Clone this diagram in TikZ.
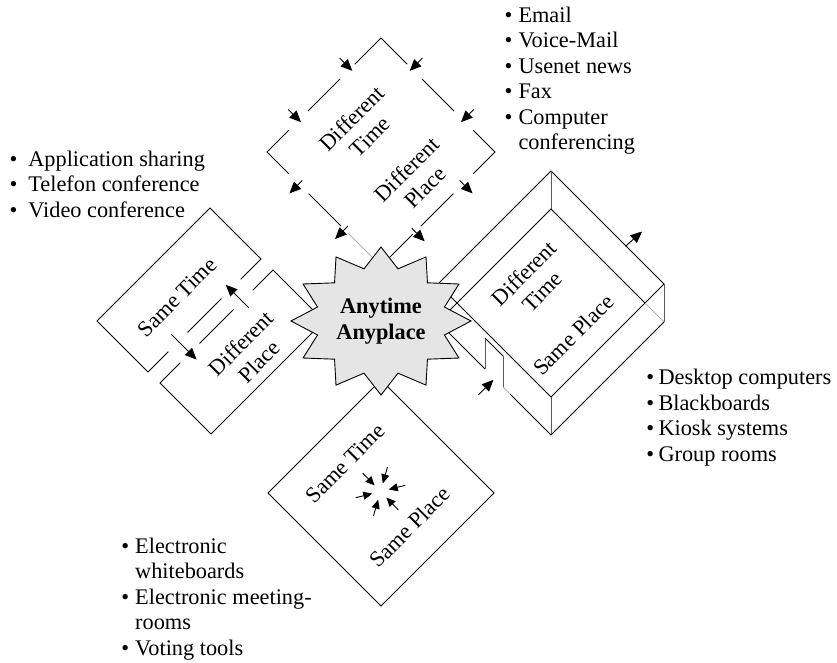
\documentclass[tikz,border=0pt]{standalone}
\usepackage{fontspec}
\setmainfont{Liberation Serif}
\usetikzlibrary{arrows.meta,calc}
\begin{document}
\begin{tikzpicture}[x=1pt,y=-1pt,
  ln/.style={line width=0.9pt},
  vert/.style={line width=0.9pt, draw=black!65},
  faint/.style={line width=0.9pt, draw=black!30},
  arr/.style={line width=0.9pt, -{Triangle[length=11.5pt,width=10pt]}},
  sarr/.style={line width=0.9pt, -{Triangle[length=9pt,width=8pt]}},
  burststyle/.style={line width=0.9pt, draw=black, fill=black!10, line join=miter},
  lbl/.style={font=\fontsize{22.3}{25.5}\selectfont, inner sep=0pt, align=center},
  lst/.style={font=\fontsize{22.3}{25.5}\selectfont, inner sep=0pt, anchor=base west},
]
\useasboundingbox (0,0) rectangle (837,662);

% ---------- top diamond: Different Time / Different Place ----------
\coordinate (dT) at (381,38);
\coordinate (dL) at (267,152);
\coordinate (dR) at (495,152);
\coordinate (dB) at (381,266);
\draw[ln] ($(dT)!0.23!(dL)$) -- (dT) -- ($(dT)!0.23!(dR)$);
\draw[ln] ($(dT)!0.36!(dL)$) -- ($(dT)!0.64!(dL)$);
\draw[ln] ($(dT)!0.36!(dR)$) -- ($(dT)!0.64!(dR)$);
\draw[ln] ($(dT)!0.81!(dL)$) -- (dL) -- ($(dL)!0.19!(dB)$);
\draw[ln] ($(dT)!0.81!(dR)$) -- (dR) -- ($(dR)!0.19!(dB)$);
\draw[ln] ($(dL)!0.365!(dB)$) -- ($(dL)!0.65!(dB)$);
\draw[ln] ($(dR)!0.365!(dB)$) -- ($(dR)!0.65!(dB)$);
\draw[faint] ($(dL)!0.71!(dB)$) -- (dB);
\draw[ln] ($(dR)!0.72!(dB)$) -- (dB);
% inward arrows (upper edges)
\draw[arr] ($(dT)!0.27!(dL)+(-10.6,-10.6)$) -- ($(dT)!0.27!(dL)+(2.1,2.1)$);
\draw[arr] ($(dT)!0.72!(dL)+(-10.6,-10.6)$) -- ($(dT)!0.72!(dL)+(2.1,2.1)$);
\draw[arr] ($(dT)!0.27!(dR)+(10.6,-10.6)$) -- ($(dT)!0.27!(dR)+(-2.1,2.1)$);
\draw[arr] ($(dT)!0.72!(dR)+(10.6,-10.6)$) -- ($(dT)!0.72!(dR)+(-2.1,2.1)$);
% outward arrows (lower edges)
\draw[arr] ($(dL)!0.28!(dB)+(3.5,-3.5)$) -- ($(dL)!0.28!(dB)+(-9.5,9.5)$);
\draw[arr] ($(dL)!0.68!(dB)+(3.5,-3.5)$) -- ($(dL)!0.68!(dB)+(-9.5,9.5)$);
\draw[arr] ($(dR)!0.28!(dB)+(-3.5,-3.5)$) -- ($(dR)!0.28!(dB)+(9.5,9.5)$);
\draw[arr] ($(dR)!0.70!(dB)+(-3.5,-3.5)$) -- ($(dR)!0.70!(dB)+(9.5,9.5)$);

% ---------- left: Same Time / Different Place ----------
\coordinate (uL) at (97,321);
\coordinate (uT) at (210,208);
\coordinate (uR) at (261,259);
\coordinate (uB) at (148,372);
\coordinate (lL) at (160,383);
\coordinate (lT) at (273,270);
\coordinate (lR) at (324,321);
\coordinate (lB) at (211,434);
\draw[ln] ($(uR)!0.18!(uB)$) -- (uR) -- (uT) -- (uL) -- (uB) -- ($(uB)!0.18!(uR)$);
\draw[ln] ($(uR)!0.35!(uB)$) -- ($(uR)!0.65!(uB)$);
\draw[ln] ($(lT)!0.18!(lL)$) -- (lT) -- (lR) -- (lB) -- (lL) -- ($(lL)!0.18!(lT)$);
\draw[ln] ($(lT)!0.35!(lL)$) -- ($(lT)!0.65!(lL)$);
\coordinate (la1) at (248.9,307.9);
\coordinate (lb1) at (225.8,284.8);
\coordinate (la2) at (171.4,334.4);
\coordinate (lb2) at (196.6,359.6);
\draw[arr] (la1) -- (lb1);
\draw[arr] (la2) -- (lb2);

% ---------- right: box Different Time / Same Place ----------
\coordinate (P1) at (551,171);
\coordinate (P2) at (664,284);
\coordinate (P3) at (551,397);
\coordinate (P4) at (438,284);
\coordinate (Q1) at (551,209);
\coordinate (Q2) at (664,322);
\coordinate (Q3) at (551,435);
\coordinate (Q4) at (438,322);
\coordinate (X) at (645,303);
\coordinate (N1) at (485,369);
\coordinate (N2) at (485,338);
\coordinate (N3) at (503,356);
\coordinate (N4) at (503,387);
\coordinate (G) at (510,394);
\draw[ln] (P4) -- (P1) -- (P2) -- (P3) -- cycle;
\draw[vert] (P1) -- (Q1);
\draw[vert] (P2) -- (Q2);
\draw[vert] (P3) -- (Q3);
\draw[ln] (Q4) -- (Q1) -- (X);
\draw[faint] (X) -- (Q2);
\draw[ln] (Q2) -- (Q3) -- (G);
\draw[faint] (G) -- (N4);
\draw[ln] (Q4) -- (N1);
\draw[vert] (N1) -- (N2);
\draw[ln] (N2) -- (N3);
\draw[vert] (N3) -- (N4);
\coordinate (ra1) at (625.5,246.3);
\coordinate (rb1) at (642,231.5);
\coordinate (ra2) at (478.5,394.8);
\coordinate (rb2) at (493.5,379.8);
\draw[arr] (ra1) -- (rb1);
\draw[arr] (ra2) -- (rb2);

% ---------- bottom diamond: Same Time / Same Place ----------
\coordinate (bT) at (381,380);
\coordinate (bL) at (268,493);
\coordinate (bB) at (381,606);
\coordinate (bR) at (494,493);
\draw[ln] (bT) -- (bR) -- (bB) -- (bL) -- cycle;
\coordinate (bc) at (380.5,491.5);
\foreach \a in {14,74,134,194,254,314}
  \draw[sarr] ($(bc)+(-\a:25.5)$) -- ($(bc)+(-\a:8.5)$);

% ---------- centre burst ----------
\coordinate (st) at (381,321);
\draw[burststyle] ($(st)+(0:90 and 74)$)
  \foreach \a in {0,30,...,330}{ -- ($(st)+({\a+15}:65.7 and 54)$) -- ($(st)+({\a+30}:90 and 74)$) } -- cycle;
\node[lbl, font=\fontsize{22.3}{25.5}\selectfont\bfseries] (any) at (381,321) {Anytime\\Anyplace};

% ---------- labels ----------
\node[lbl, rotate=45] (t1) at (360.8,127.5) {Different\\Time};
\node[lbl, rotate=45] (t2) at (415.8,178.3) {Different\\Place};
\node[lbl, rotate=45] (l1) at (177,297) {Same Time};
\node[lbl, rotate=45] (l2) at (250,352.5) {Different\\Place};
\node[lbl, rotate=45] (r1) at (533,282.5) {Different\\Time};
\node[lbl, rotate=45] (r2) at (573.3,335) {Same Place};
\node[lbl, rotate=45] (b1) at (345,463.3) {Same Time};
\node[lbl, rotate=45] (b2) at (410,527) {Same Place};

% ---------- lists ----------
\node[lst] (listTR) at (504.4,22) {\begin{tabular}[t]{@{}l@{\hspace{6.1pt}}l@{}}
\textbullet & Email\\
\textbullet & Voice-Mail\\
\textbullet & Usenet news\\
\textbullet & Fax\\
\textbullet & Computer\\
 & conferencing
\end{tabular}};
\node[lst] (listL) at (9.4,166) {\begin{tabular}[t]{@{}l@{\hspace{11pt}}l@{}}
\textbullet & Application sharing\\
\textbullet & Telefon conference\\
\textbullet & Video conference
\end{tabular}};
\node[lst] (listR) at (646.1,384.5) {\begin{tabular}[t]{@{}l@{\hspace{4.4pt}}l@{}}
\textbullet & Desktop computers\\
\textbullet & Blackboards\\
\textbullet & Kiosk systems\\
\textbullet & Group rooms
\end{tabular}};
\node[lst] (listB) at (121.1,553) {\begin{tabular}[t]{@{}l@{\hspace{6.1pt}}l@{}}
\textbullet & Electronic\\
 & whiteboards\\
\textbullet & Electronic meeting-\\
 & rooms\\
\textbullet & Voting tools
\end{tabular}};
\end{tikzpicture}
\end{document}
